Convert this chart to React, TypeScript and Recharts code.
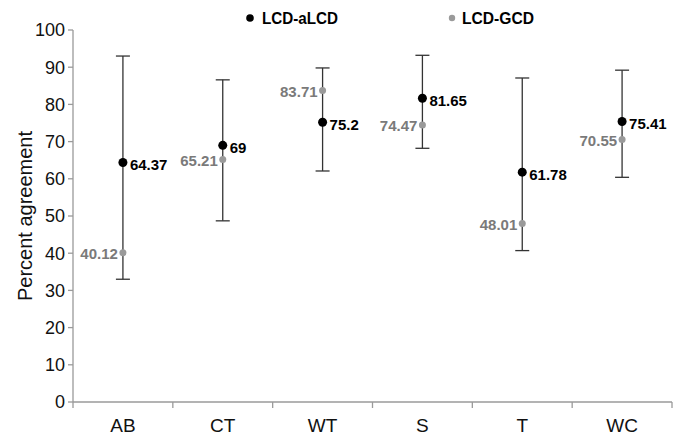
import React from 'react';
import { ComposedChart, Line, XAxis, YAxis, ErrorBar, LabelList } from 'recharts';

const categories = ['AB', 'CT', 'WT', 'S', 'T', 'WC'];
const aLcd = [64.37, 69, 75.2, 81.65, 61.78, 75.41];
const gcd = [40.12, 65.21, 83.71, 74.47, 48.01, 70.55];
const rangeLow = [33.0, 48.7, 62.1, 68.2, 40.7, 60.4];
const rangeHigh = [93.0, 86.6, 89.8, 93.2, 87.1, 89.2];
const yTicks = [0, 10, 20, 30, 40, 50, 60, 70, 80, 90, 100];

const data = categories.map((name, i) => ({
  name,
  aLcd: aLcd[i],
  gcd: gcd[i],
  err: [aLcd[i] - rangeLow[i], rangeHigh[i] - aLcd[i]],
}));

const labelFont = '"Liberation Sans", Arial, sans-serif';
const axisFont = '"Liberation Sans", Arial, Helvetica, sans-serif';
const axisGray = '#9a9a9a';
const TICK_SIZE = 6;
const TICK_MARGIN = 11;

// category tick: label at band centre, tick mark at the band's edges
function CategoryTick(props: any) {
  const { x, y, payload, index, visibleTicksCount } = props;
  const half = payload.offset || 0;
  const axisY = y - TICK_SIZE - TICK_MARGIN;
  const isLast = index === visibleTicksCount - 1;
  return (
    <g>
      <line x1={x - half} x2={x - half} y1={axisY} y2={axisY + TICK_SIZE} stroke={axisGray} strokeWidth={1.3} />
      {isLast && (
        <line x1={x + half} x2={x + half} y1={axisY} y2={axisY + TICK_SIZE} stroke={axisGray} strokeWidth={1.3} />
      )}
      <text x={x} y={y} dy="0.68em" textAnchor="middle" fill="#111" fontSize={19} fontFamily={axisFont}>
        {payload.value}
      </text>
    </g>
  );
}

function TopLegend() {
  return (
    <g style={{ fontFamily: labelFont, fontWeight: 700, fontSize: 17 }}>
      <circle cx={250} cy={18} r={3.8} fill="#000" />
      <text x={262} y={24} fill="#000" textLength={76} lengthAdjust="spacingAndGlyphs">LCD-aLCD</text>
      <circle cx={452} cy={18} r={3.2} fill={axisGray} />
      <text x={462} y={24} fill="#000" textLength={72} lengthAdjust="spacingAndGlyphs">LCD-GCD</text>
    </g>
  );
}

export default function App() {
  return (
    <div style={{ position: 'absolute', left: 0, top: 0, background: '#fff' }}>
      <ComposedChart
        width={675}
        height={439}
        data={data}
        margin={{ top: 30, right: 3, left: 0, bottom: 0 }}
      >
        <XAxis
          dataKey="name"
          scale="band"
          height={37}
          axisLine={{ stroke: axisGray, strokeWidth: 1.3 }}
          tickLine={false}
          tickSize={TICK_SIZE}
          tickMargin={TICK_MARGIN}
          tick={<CategoryTick />}
        />
        <YAxis
          width={73}
          domain={[0, 100]}
          ticks={yTicks}
          interval={0}
          tickSize={5}
          tickMargin={3}
          axisLine={{ stroke: axisGray, strokeWidth: 1.3 }}
          tickLine={{ stroke: axisGray, strokeWidth: 1.3 }}
          tick={{ fill: '#111', fontSize: 18, fontFamily: axisFont }}
          label={{
            value: 'Percent agreement',
            angle: -90,
            position: 'center',
            dx: -12,
            style: { fill: '#111', fontSize: 20, fontFamily: axisFont, textAnchor: 'middle' },
          }}
        />
        <Line
          dataKey="aLcd"
          stroke="none"
          isAnimationActive={false}
          dot={{ r: 4.5, fill: '#000', stroke: '#000', strokeWidth: 0 }}
          activeDot={false}
        >
          <ErrorBar dataKey="err" width={7} stroke="#333" strokeWidth={1.3} direction="y" />
          <LabelList
            dataKey="aLcd"
            position="right"
            offset={7}
            dy={2}
            style={{ fill: '#000', fontWeight: 700, fontSize: 15, fontFamily: labelFont }}
          />
        </Line>
        <Line
          dataKey="gcd"
          stroke="none"
          isAnimationActive={false}
          dot={{ r: 3.5, fill: axisGray, stroke: axisGray, strokeWidth: 0 }}
          activeDot={false}
        >
          <LabelList
            dataKey="gcd"
            position="left"
            offset={5}
            dy={1}
            style={{ fill: '#7a7a7a', fontWeight: 700, fontSize: 15, fontFamily: labelFont }}
          />
        </Line>
        <TopLegend />
      </ComposedChart>
    </div>
  );
}
